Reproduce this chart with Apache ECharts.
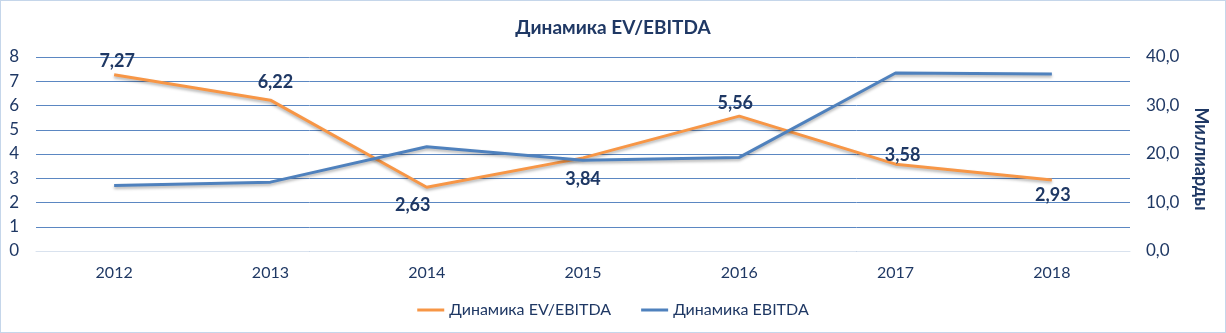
<!DOCTYPE html>
<html><head><meta charset="utf-8">
<script src="https://cdn.jsdelivr.net/npm/echarts@6/dist/echarts.min.js"></script>
<style>
html,body{margin:0;padding:0;background:#fff;}
#c{width:1224px;height:331px;border:1px solid #c5d6ea;}
</style></head>
<body><div id="c"></div>
<script>
const categories = ['2012','2013','2014','2015','2016','2017','2018'];
const evEbitda = [7.27, 6.22, 2.63, 3.84, 5.56, 3.58, 2.93];
const ebitda = [13.5, 14.2, 21.5, 18.7, 19.3, 36.7, 36.5];
// label placement (pixel offsets from each point), styling only
const labelOffsets = [[3,-14],[5,-18],[-14,18],[0,21],[-4,-13],[7,-9],[1,15]];

const font = 'Lato';
const dark = '#1f3864';
const chart = echarts.init(document.getElementById('c'));
chart.setOption({
  animation: false,
  title: {text: 'Динамика EV/EBITDA', left: 'center', top: 12,
    textStyle: {fontFamily: font, fontSize: 19, fontWeight: 'bold', color: dark}},
  legend: {bottom: 9, left: 'center', itemWidth: 27, itemGap: 30, icon: 'path://M0,0L27,0L27,3L0,3Z',
    textStyle: {fontFamily: font, fontSize: 16, color: dark},
    data: ['Динамика EV/EBITDA', 'Динамика EBITDA']},
  grid: {left: 35, right: 95, top: 56, bottom: 81},
  xAxis: {type: 'category', data: categories, boundaryGap: true,
    axisLine: {show: true, lineStyle: {color: '#d9e2ee'}}, axisTick: {show: false},
    axisLabel: {fontFamily: font, fontSize: 16, color: dark, margin: 14}},
  yAxis: [
    {type: 'value', min: 0, max: 8, interval: 1,
      axisLine: {show: false}, axisTick: {show: false},
      axisLabel: {fontFamily: font, fontSize: 17, color: dark, margin: 17},
      splitLine: {lineStyle: {color: '#5b87c2', width: 1}}},
    {type: 'value', min: 0, max: 40, interval: 5, position: 'right',
      name: 'Миллиарды', nameLocation: 'middle', nameGap: 62, nameRotate: -90,
      nameTextStyle: {fontFamily: font, fontSize: 18, fontWeight: 'bold', color: dark, padding: [0, 0, 0, 10]},
      axisLine: {show: false}, axisTick: {show: false}, splitLine: {show: false},
      axisLabel: {fontFamily: font, fontSize: 17, color: dark, margin: 16,
        formatter: v => (v % 10 === 0 ? v.toFixed(1).replace('.', ',') : '')}}
  ],
  series: [
    {name: 'Динамика EV/EBITDA', type: 'line', yAxisIndex: 0,
      data: evEbitda.map((v, i) => ({value: v, label: {offset: labelOffsets[i]}})),
      symbol: 'circle', symbolSize: 0.1, showSymbol: true,
      lineStyle: {color: '#f79646', width: 3, shadowColor: 'rgba(0,0,0,0.3)', shadowBlur: 3, shadowOffsetY: 2},
      itemStyle: {color: '#f79646'},
      label: {show: true, position: 'inside', fontFamily: font, fontSize: 18, fontWeight: 'bold', color: dark,
        formatter: p => p.value.toFixed(2).replace('.', ',')}},
    {name: 'Динамика EBITDA', type: 'line', yAxisIndex: 1, data: ebitda,
      symbol: 'none', lineStyle: {color: '#4f81bd', width: 3, shadowColor: 'rgba(0,0,0,0.3)', shadowBlur: 3, shadowOffsetY: 2},
      itemStyle: {color: '#4f81bd'}}
  ]
});
</script></body></html>
